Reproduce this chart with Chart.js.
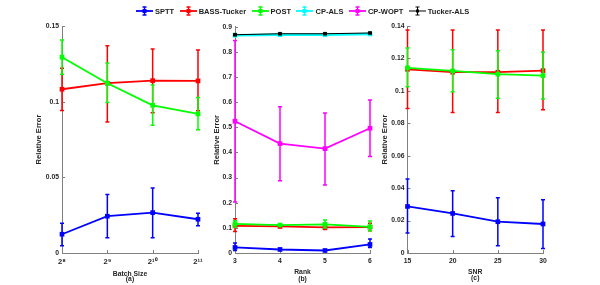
<!DOCTYPE html>
<html>
<head>
<meta charset="utf-8">
<script src="https://cdn.jsdelivr.net/npm/chart.js@4.4.0/dist/chart.umd.min.js"></script>
<style>
  html, body { margin: 0; padding: 0; background: #fff; }
  #wrap { position: relative; width: 600px; height: 285px; overflow: hidden; }
  #wrap canvas { position: absolute; left: 0; top: 0; }
  #legend { position: absolute; top: 6px; left: 136px; display: flex; align-items: center;
            font: bold 7.5px "Liberation Sans", Arial, sans-serif; color: #222; white-space: nowrap; }
  .item { display: flex; align-items: center; margin-right: 5.5px; }
  .item svg { margin-right: 2px; }
</style>
</head>
<body>
<div id="wrap">
  <canvas id="ca" width="600" height="285"></canvas>
  <canvas id="cb" width="600" height="285"></canvas>
  <canvas id="cc" width="600" height="285"></canvas>
  <div id="legend"></div>
</div>
<script>
const seriesNames  = ['SPTT', 'BASS-Tucker', 'POST', 'CP-ALS', 'CP-WOPT', 'Tucker-ALS'];
const seriesColors = ['#0000ff', '#ff0000', '#00ff00', '#00ffff', '#ff00ff', '#000000'];

// (a) batch size
const batchLabels = ['2⁸', '2⁹', '2¹⁰', '2¹¹'];
const aSPTT   = [0.0124, 0.0243, 0.0267, 0.0223];
const aSPTTlo = [0.0048, 0.0101, 0.0101, 0.0180];
const aSPTThi = [0.0196, 0.0386, 0.0430, 0.0262];
const aBASS   = [0.1082, 0.1122, 0.1139, 0.1137];
const aBASSlo = [0.0941, 0.0866, 0.0927, 0.0940];
const aBASShi = [0.1221, 0.1370, 0.1348, 0.1342];
const aPOST   = [0.1294, 0.1122, 0.0976, 0.0919];
const aPOSTlo = [0.1181, 0.0994, 0.0844, 0.0815];
const aPOSThi = [0.1408, 0.1256, 0.1110, 0.1027];
const aYTicks = [0, 0.05, 0.1, 0.15];

// (b) rank
const rankLabels = ['3', '4', '5', '6'];
const bSPTT   = [0.022, 0.014, 0.010, 0.034];
const bSPTTlo = [0.010, 0.011, 0.008, 0.022];
const bSPTThi = [0.040, 0.018, 0.013, 0.056];
const bBASS   = [0.108, 0.106, 0.102, 0.103];
const bBASSlo = [0.086, 0.100, 0.093, 0.088];
const bBASShi = [0.136, 0.112, 0.112, 0.118];
const bPOST   = [0.116, 0.111, 0.114, 0.104];
const bPOSTlo = [0.102, 0.106, 0.099, 0.088];
const bPOSThi = [0.128, 0.116, 0.131, 0.127];
const bCPALS   = [0.866, 0.868, 0.868, 0.871];
const bCPALSlo = [0.862, 0.864, 0.864, 0.867];
const bCPALShi = [0.870, 0.872, 0.872, 0.875];
const bWOPT   = [0.524, 0.435, 0.415, 0.496];
const bWOPTlo = [0.203, 0.287, 0.270, 0.384];
const bWOPThi = [0.845, 0.582, 0.557, 0.608];
const bTALS   = [0.868, 0.872, 0.872, 0.875];
const bTALSlo = [0.866, 0.870, 0.870, 0.873];
const bTALShi = [0.870, 0.874, 0.874, 0.877];
const bYTicks = [0, 0.1, 0.2, 0.3, 0.4, 0.5, 0.6, 0.7, 0.8, 0.9];

// (c) SNR
const snrLabels = ['15', '20', '25', '30'];
const cSPTT   = [0.0287, 0.0244, 0.0193, 0.0179];
const cSPTTlo = [0.0123, 0.0102, 0.0045, 0.0028];
const cSPTThi = [0.0456, 0.0384, 0.0341, 0.0328];
const cBASS   = [0.1133, 0.1115, 0.1115, 0.1125];
const cBASSlo = [0.0891, 0.0866, 0.0866, 0.0883];
const cBASShi = [0.1376, 0.1376, 0.1376, 0.1376];
const cPOST   = [0.1142, 0.1123, 0.1103, 0.1094];
const cPOSTlo = [0.1026, 0.0994, 0.0955, 0.0950];
const cPOSThi = [0.1265, 0.1254, 0.1248, 0.1238];
const cYTicks = [0, 0.02, 0.04, 0.06, 0.08, 0.1, 0.12, 0.14];

const FONT = '"Liberation Sans", Arial, sans-serif';
const TEXT = '#262626';
const AXIS = '#808080';

/* vertical error bars, drawn right after each line */
const errorBars = {
  id: 'errorBars',
  afterDatasetDraw(chart, args) {
    const ds = chart.data.datasets[args.index];
    if (!ds.lo) return;
    const ctx = chart.ctx, ys = chart.scales.y, c = ds.cap || 2;
    ctx.save();
    ctx.strokeStyle = ds.borderColor;
    ctx.lineWidth = ds.errWidth || 1.5;
    args.meta.data.forEach((pt, i) => {
      const y1 = ys.getPixelForValue(ds.lo[i]), y2 = ys.getPixelForValue(ds.hi[i]);
      ctx.beginPath();
      ctx.moveTo(pt.x, y1); ctx.lineTo(pt.x, y2);
      ctx.moveTo(pt.x - c, y1); ctx.lineTo(pt.x + c, y1);
      ctx.moveTo(pt.x - c, y2); ctx.lineTo(pt.x + c, y2);
      ctx.stroke();
    });
    ctx.restore();
  }
};

/* matlab style ticks pointing inside the axes */
const innerTicks = {
  id: 'innerTicks',
  beforeDatasetsDraw(chart) {
    const { ctx, chartArea: a, scales } = chart;
    ctx.save();
    ctx.strokeStyle = AXIS; ctx.lineWidth = 1;
    ctx.beginPath();
    scales.y.ticks.forEach(t => {
      const p = Math.round(scales.y.getPixelForValue(t.value)) + 0.5;
      ctx.moveTo(a.left, p); ctx.lineTo(a.left + 3, p);
    });
    scales.x.ticks.forEach((t, i) => {
      const p = Math.round(scales.x.getPixelForTick(i)) + 0.5;
      ctx.moveTo(p, a.bottom); ctx.lineTo(p, a.bottom - 3);
    });
    ctx.stroke();
    ctx.restore();
  }
};

function series(k, data, lo, hi, extra) {
  return Object.assign({
    label: seriesNames[k], data, lo, hi,
    borderColor: seriesColors[k], backgroundColor: seriesColors[k],
    borderWidth: 1.8, pointStyle: 'rect', pointRadius: 3.3, pointBorderWidth: 0,
    tension: 0, clip: false, order: 6 - k
  }, extra || {});
}

function makePanel(id, labels, datasets, yTicks, p) {
  return new Chart(document.getElementById(id), {
    type: 'line',
    data: { labels, datasets },
    plugins: [errorBars, innerTicks],
    options: {
      responsive: false, animation: false, events: [],
      layout: { padding: { left: p.left, right: p.right, top: p.top, bottom: 0 } },
      plugins: { legend: { display: false }, tooltip: { enabled: false } },
      scales: {
        x: {
          type: 'category', offset: false,
          grid: { display: false, drawTicks: false }, border: { display: true, color: AXIS, width: 1 },
          ticks: { color: TEXT, font: { family: FONT, size: p.xTickSize || 6.8, weight: 'bold' }, padding: 4.5, maxRotation: 0, autoSkip: false },
          title: { display: true, text: p.xTitle, color: TEXT,
                   font: { family: FONT, size: 6.8, weight: 'bold', lineHeight: p.titleLH }, padding: { top: 0, bottom: p.titlePad } },
          afterFit: s => { s.height = 32; }
        },
        y: {
          min: yTicks[0], max: yTicks[yTicks.length - 1],
          grid: { display: false, drawTicks: false }, border: { display: true, color: AXIS, width: 1 },
          afterBuildTicks: s => { s.ticks = yTicks.map(v => ({ value: v })); },
          ticks: { color: TEXT, font: { family: FONT, size: 6.8, weight: 'bold' }, padding: 3,
                   callback: v => String(+v.toFixed(4)) },
          title: { display: true, text: 'Relative Error', color: TEXT,
                   font: { family: FONT, size: 7.6, weight: 'bold' }, padding: 0 },
          afterFit: s => { s.width = p.yWidth; }
        }
      }
    }
  });
}

makePanel('ca', batchLabels, [
  series(0, aSPTT, aSPTTlo, aSPTThi),
  series(1, aBASS, aBASSlo, aBASShi),
  series(2, aPOST, aPOSTlo, aPOSThi)
], aYTicks, { left: 34, right: 402, top: 26, yWidth: 28, xTickSize: 7.6, xTitle: ['Batch Size', '(a)'], titleLH: '4.6px', titlePad: 4 });

makePanel('cb', rankLabels, [
  series(0, bSPTT, bSPTTlo, bSPTThi),
  series(1, bBASS, bBASSlo, bBASShi),
  series(2, bPOST, bPOSTlo, bPOSThi),
  series(3, bCPALS, bCPALSlo, bCPALShi, { borderWidth: 2.6 }),
  series(4, bWOPT, bWOPTlo, bWOPThi),
  series(5, bTALS, bTALSlo, bTALShi, { borderWidth: 1, pointRadius: 2.6, errWidth: 1 })
], bYTicks, { left: 212, right: 230, top: 26.7, yWidth: 23, xTitle: ['Rank', '(b)'], titleLH: '6.7px', titlePad: 2.6 });

makePanel('cc', snrLabels, [
  series(0, cSPTT, cSPTTlo, cSPTThi),
  series(1, cBASS, cBASSlo, cBASShi),
  series(2, cPOST, cPOSTlo, cPOSThi)
], cYTicks, { left: 380, right: 57, top: 26, yWidth: 27.5, xTitle: ['SNR', '(c)'], titleLH: '6px', titlePad: 4.3 });

/* legend in html */
const legend = document.getElementById('legend');
seriesNames.forEach((name, k) => {
  const col = seriesColors[k];
  const thin = k === 5;
  const lw = thin ? 1 : 1.8, sq = thin ? 3 : 4;
  const item = document.createElement('div');
  item.className = 'item';
  item.innerHTML =
    `<svg width="17" height="10" viewBox="0 0 17 10">` +
    `<line x1="0" y1="5" x2="17" y2="5" stroke="${col}" stroke-width="${lw}"/>` +
    `<path d="M8.5 1V9M6.5 1H10.5M6.5 9H10.5" stroke="${col}" stroke-width="${thin ? 1 : 1.4}" fill="none"/>` +
    `<rect x="${8.5 - sq / 2}" y="${5 - sq / 2}" width="${sq}" height="${sq}" fill="${col}"/></svg>` +
    `<span>${name}</span>`;
  legend.appendChild(item);
});
</script>
</body>
</html>
